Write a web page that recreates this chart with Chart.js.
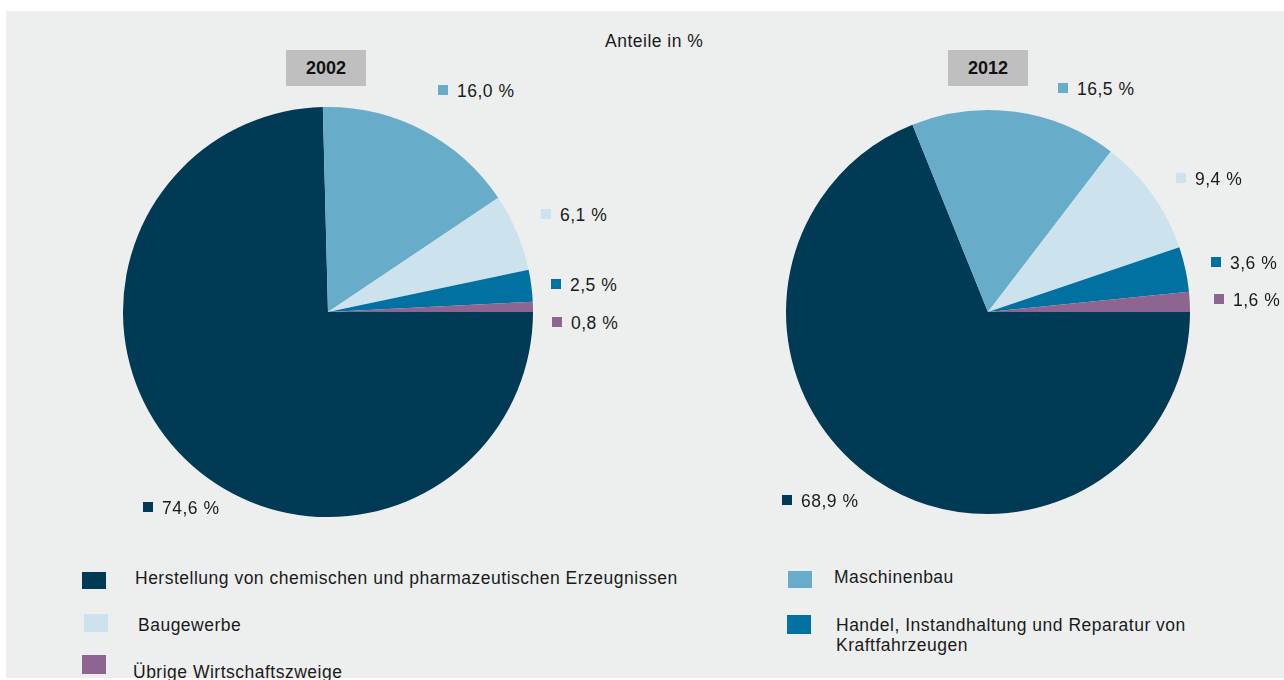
<!DOCTYPE html>
<html>
<head>
<meta charset="utf-8">
<script src="https://cdn.jsdelivr.net/npm/chart.js@4"></script>
<style>
  html, body { margin: 0; padding: 0; background: #ffffff; }
  body { width: 1284px; height: 680px; position: relative; overflow: hidden; font-family: "Liberation Sans", Arial, sans-serif; color: #1a1a1a; }
  #panel { position: absolute; left: 6px; top: 11px; width: 1278px; height: 667px; background: #EDEFEE; }
  .abs { position: absolute; }
  .title { font-size: 17.5px; letter-spacing: 0.5px; white-space: nowrap; }
  .yearbox { background: #BFBFBF; font-weight: bold; font-size: 18px; text-align: center; line-height: 36px; height: 36px; width: 80px; color: #111; }
  .lbl { font-size: 17.5px; letter-spacing: 0.5px; white-space: nowrap; line-height: 20px; height: 20px; }
  .lbl .sq { display: inline-block; width: 10px; height: 10px; vertical-align: middle; margin-right: 9px; position: relative; top: -2px; }
  .legsq { position: absolute; width: 24px; height: 18px; }
  .legtxt { position: absolute; font-size: 17.5px; letter-spacing: 0.5px; line-height: 20px; }
  canvas { position: absolute; }
</style>
</head>
<body>
<div id="panel"></div>
<div class="abs title" style="left:605px; top:31px;">Anteile in %</div>
<div class="abs yearbox" style="left:286px; top:50px;">2002</div>
<div class="abs yearbox" style="left:948px; top:50px;">2012</div>
<div class="abs" style="left:118px; top:102px; width:420px; height:420px;"><canvas id="pie1"></canvas></div>
<div class="abs" style="left:781px; top:105px; width:414px; height:414px;"><canvas id="pie2"></canvas></div>
<div id="labels"></div>
<div id="legend"></div>
<script>
// ---- data ----
const categories = [
  "Herstellung von chemischen und pharmazeutischen Erzeugnissen",
  "Maschinenbau",
  "Baugewerbe",
  "Handel, Instandhaltung und Reparatur von Kraftfahrzeugen",
  "Übrige Wirtschaftszweige"
];
const values2002 = [74.6, 16.0, 6.1, 2.5, 0.8];
const values2012 = [68.9, 16.5, 9.4, 3.6, 1.6];
const years = ["2002", "2012"];
const colors = ["#003A54", "#67ACC9", "#CCE3EE", "#0071A1", "#8E6590"];

// ---- layout (positions of label squares, top-left) ----
const labelPos2002 = [[143, 503], [438, 86], [541, 210], [551, 280], [552, 318]];
const labelPos2012 = [[782, 496], [1058, 84], [1176, 174], [1211, 258], [1214, 295]];

function fmt(v) { return v.toFixed(1).replace('.', ',') + ' %'; }

function makePie(id, values) {
  new Chart(document.getElementById(id), {
    type: 'pie',
    data: {
      labels: categories,
      datasets: [{ data: values, backgroundColor: colors, borderWidth: 0, hoverOffset: 0 }]
    },
    options: {
      responsive: true,
      maintainAspectRatio: false,
      animation: false,
      rotation: 90,
      layout: { padding: 5 },
      events: [],
      plugins: { legend: { display: false }, tooltip: { enabled: false } }
    }
  });
}
makePie('pie1', values2002);
makePie('pie2', values2012);

const lab = document.getElementById('labels');
function addLabels(values, pos) {
  values.forEach((v, i) => {
    const d = document.createElement('div');
    d.className = 'abs lbl';
    d.style.left = pos[i][0] + 'px';
    d.style.top = (pos[i][1] - 5) + 'px';
    d.innerHTML = '<span class="sq" style="background:' + colors[i] + '"></span>' + fmt(v);
    lab.appendChild(d);
  });
}
addLabels(values2002, labelPos2002);
addLabels(values2012, labelPos2012);

// legend
const legendLayout = [
  { sq: [82, 572, 24, 17], txt: [135, 568], w: 620 },
  { sq: [788, 571, 24, 17], txt: [834, 567], w: 400 },
  { sq: [84, 614, 24, 18], txt: [138, 615], w: 600 },
  { sq: [787, 615, 24, 19], txt: [836, 615], w: 370 },
  { sq: [82, 655, 24, 19], txt: [133, 662], w: 600 }
];
const leg = document.getElementById('legend');
categories.forEach((c, i) => {
  const L = legendLayout[i];
  const s = document.createElement('div');
  s.className = 'legsq';
  s.style.left = L.sq[0] + 'px'; s.style.top = L.sq[1] + 'px';
  s.style.width = L.sq[2] + 'px'; s.style.height = L.sq[3] + 'px';
  s.style.background = colors[i];
  leg.appendChild(s);
  const t = document.createElement('div');
  t.className = 'legtxt';
  t.style.left = L.txt[0] + 'px'; t.style.top = L.txt[1] + 'px';
  t.style.width = L.w + 'px';
  t.textContent = c;
  leg.appendChild(t);
});
</script>
</body>
</html>
